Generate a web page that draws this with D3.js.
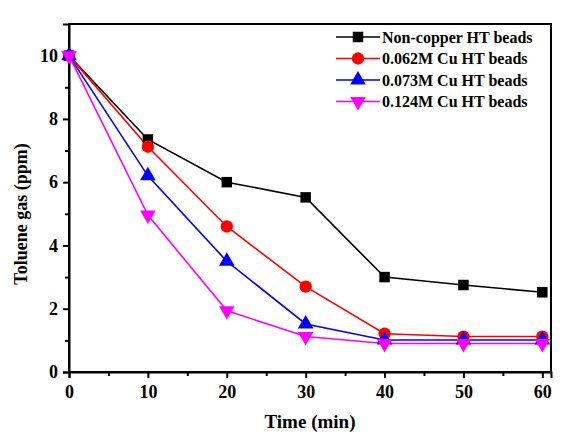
<!DOCTYPE html>
<html><head><meta charset="utf-8">
<script src="https://cdn.jsdelivr.net/npm/d3@7"></script>
<style>body{margin:0;background:#fff}svg text{font-family:"Liberation Serif","Times New Roman",serif;font-weight:bold}</style>
</head><body><svg id="c" width="572" height="446"></svg>
<script>
const times = [0, 10, 20, 30, 40, 50, 60];
const nonCopper = [10, 7.35, 6.0, 5.52, 3.0, 2.75, 2.52];
const cu062 = [10, 7.12, 4.6, 2.7, 1.21, 1.12, 1.12];
const cu073 = [10, 6.2, 3.5, 1.52, 1.01, 1.01, 1.01];
const cu124 = [10, 4.96, 1.94, 1.12, 0.9, 0.9, 0.9];
const seriesNames = ["Non-copper HT beads", "0.062M Cu HT beads", "0.073M Cu HT beads", "0.124M Cu HT beads"];
const seriesColors = ["#000000", "#ff0000", "#0000ff", "#ff00ff"];
const seriesSymbols = ["square", "circle", "triangleUp", "triangleDown"];
const xTicks = [0, 10, 20, 30, 40, 50, 60];
const yTicks = [0, 2, 4, 6, 8, 10];

const seriesData = [nonCopper, cu062, cu073, cu124];
const svg = d3.select("#c");
const L = 69, R = 551, T = 24, B = 372;
const x = d3.scaleLinear().domain([0, 61.1]).range([L, R]);
const y = d3.scaleLinear().domain([0, 11]).range([B, T]);

svg.append("rect").attr("x", L).attr("y", T).attr("width", R - L).attr("height", B - T)
  .attr("fill", "none").attr("stroke", "#000").attr("stroke-width", 2);

const gx = svg.append("g").attr("transform", `translate(0,${B})`)
  .call(d3.axisBottom(x).tickValues(xTicks).tickSize(6).tickPadding(5).tickFormat(d3.format("d")));
svg.append("g").attr("transform", `translate(0,${B})`)
  .call(d3.axisBottom(x).tickValues([5,15,25,35,45,55]).tickSize(4).tickFormat("")).select(".domain").remove();
const gy = svg.append("g").attr("transform", `translate(${L},0)`)
  .call(d3.axisLeft(y).tickValues(yTicks).tickSize(6).tickPadding(5).tickFormat(d3.format("d")));
svg.append("g").attr("transform", `translate(${L},0)`)
  .call(d3.axisLeft(y).tickValues([1,3,5,7,9]).tickSize(4).tickFormat("")).select(".domain").remove();
svg.selectAll(".domain").attr("stroke-width", 2);
svg.selectAll(".tick line").attr("stroke-width", 2);
svg.selectAll(".tick text").attr("font-size", 18).attr("fill", "#000")
  .style("font-family", '"Liberation Serif",serif').style("font-weight", "bold");
gx.selectAll(".tick text").attr("dy", "0.85em");

svg.append("text").attr("x", 310).attr("y", 428).attr("text-anchor", "middle")
  .attr("font-size", 19).text("Time (min)");
svg.append("text").attr("transform", "translate(27,214) rotate(-90)").attr("text-anchor", "middle")
  .attr("font-size", 18).text("Toluene gas (ppm)");

const symMap = {
  square: d3.symbol().type(d3.symbolSquare).size(110),
  circle: d3.symbol().type(d3.symbolCircle).size(120),
  triangleUp: d3.symbol().type(d3.symbolTriangle).size(105),
  triangleDown: d3.symbol().type(d3.symbolTriangle).size(105)
};
function drawSym(g, k, cx, cy, color) {
  const p = g.append("path").attr("d", symMap[seriesSymbols[k]]()).attr("fill", color);
  let tr = `translate(${cx},${cy})`;
  if (seriesSymbols[k] === "triangleDown") tr += " rotate(180)";
  p.attr("transform", tr);
}
const line = d3.line().x((d, i) => x(times[i])).y(d => y(d));
seriesData.forEach((vals, k) => {
  svg.append("path").datum(vals).attr("d", line).attr("fill", "none")
    .attr("stroke", seriesColors[k]).attr("stroke-width", 1.6);
});
seriesData.forEach((vals, k) => {
  const g = svg.append("g");
  vals.forEach((v, i) => drawSym(g, k, x(times[i]), y(v), seriesColors[k]));
});

seriesNames.forEach((name, k) => {
  const cy = 37 + k * 21.5;
  const g = svg.append("g");
  g.append("line").attr("x1", 336).attr("x2", 380).attr("y1", cy).attr("y2", cy)
    .attr("stroke", seriesColors[k]).attr("stroke-width", 1.6);
  drawSym(g, k, 358, cy, seriesColors[k]);
  g.append("text").attr("x", 382).attr("y", cy).attr("dy", "0.35em").attr("font-size", 16).text(name);
});
</script></body></html>
